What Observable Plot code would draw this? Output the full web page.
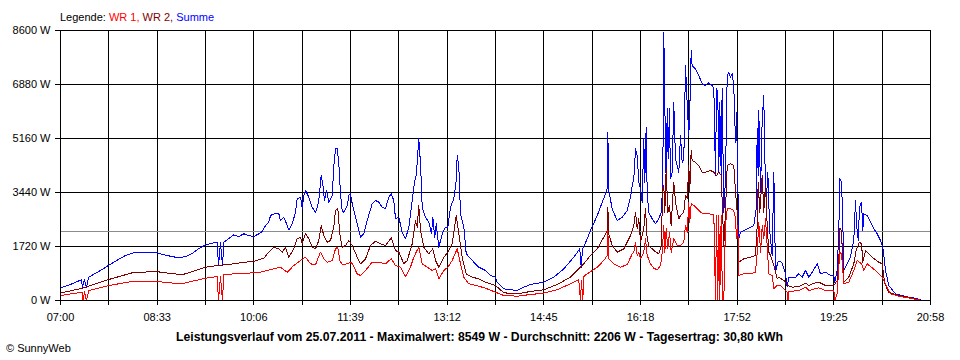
<!DOCTYPE html>
<html><head><meta charset="utf-8">
<script src="https://cdn.jsdelivr.net/npm/d3@7"></script>
<script src="https://cdn.jsdelivr.net/npm/@observablehq/plot@0.6"></script>
<style>
body{margin:0;background:#fff;}
#chart{position:relative;width:960px;height:360px;overflow:hidden;}
</style></head><body><div id="chart"></div>
<script>
// ---- texts ----
const legendTitle = "Legende: ";
const seriesNames = ["WR 1, ", "WR 2, ", "Summe"];
const seriesColors = ["#ff0000", "#800000", "#0000ff"];
const caption = "Leistungsverlauf vom 25.07.2011 - Maximalwert: 8549 W - Durchschnitt: 2206 W - Tagesertrag: 30,80 kWh";
const copyright = "\u00A9 SunnyWeb";

// ---- axes ----
const timeTickLabels = ["07:00","08:33","10:06","11:39","13:12","14:45","16:18","17:52","19:25","20:58"];
const startMinute = 420, endMinute = 1258, gridIntervals = 18;
const yTicks = [0, 1720, 3440, 5160, 6880, 8600];
const averageW = 2206;

// ---- series (minutes since midnight, watts) ----
const summeT = [420,429.6,440.2,441.2,443.1,445.0,447.0,458.5,466.2,474.9,482.6,492.2,501.9,506.7,511.5,518.2,526.0,533.7,540.4,547.1,552.9,559.7,564.5,570.9,572.2,574.1,576.0,577.5,586.9,591.7,596.6,601.4,606.2,611.0,614.3,617.5,620.6,622.3,627.1,630.3,631.9,635.1,638.4,639.9,643.2,646.4,648.0,651.2,652.8,654.4,656.0,659.2,662.4,665.6,667.3,668.8,671.1,673.0,674.3,676.2,678.4,681.7,683.2,684.9,686.5,688.1,689.7,691.3,692.9,696.2,697.7,699.3,701.0,702.5,705.8,709.0,712.1,715.4,720.2,723.4,726.6,729.9,733.0,736.2,738.5,741.0,742.7,745.9,749.1,752.3,755.5,758.8,761.0,762.6,763.6,765.1,766.8,768.4,771.6,774.8,777.4,778.6,780.5,781.9,784.4,787.7,790.8,793.1,795.7,798.8,801.2,802.1,803.7,805.3,808.5,810.8,816.6,822.9,829.4,834.2,839.0,840.6,847.0,853.4,859.9,866.3,872.7,885.5,895.2,904.8,914.4,920.2,921.5,922.8,927.3,930.5,937.0,941.8,945.0,946.6,947.2,948.1,951.4,956.2,961.0,965.9,969.0,970.7,972.2,973.9,975.5,977.0,978.7,980.3,981.8,982.8,984.1,985.1,986.6,989.9,993.1,996.3,998.6,1000.1,1001.1,1002.1,1003.4,1004.4,1005.3,1006.6,1007.5,1009.2,1010.7,1012.4,1014.0,1015.6,1017.2,1018.8,1020.4,1022.0,1023.7,1025.2,1026.1,1027.5,1028.4,1031.6,1034.8,1038.1,1041.3,1044.4,1047.7,1049.3,1050.9,1051.9,1053.1,1054.1,1055.0,1056.4,1057.3,1058.9,1060.5,1062.2,1063.7,1065.4,1067.0,1068.5,1070.2,1071.1,1072.4,1073.3,1075.0,1078.2,1081.4,1084.6,1087.8,1090.1,1091.1,1092.0,1092.6,1094.3,1095.9,1097.4,1098.4,1100.0,1101.3,1103.2,1105.5,1107.1,1108.7,1110.9,1113.5,1115.1,1118.3,1119.9,1121.5,1128.0,1131.1,1134.4,1137.6,1140.8,1144.0,1148.9,1152.0,1156.9,1161.7,1164.9,1165.8,1168.1,1169.7,1170.6,1172.3,1173.5,1174.5,1177.8,1180.9,1184.1,1185.8,1186.7,1188.4,1189.6,1191.6,1192.8,1193.7,1197.0,1200.2,1203.4,1206.7,1209.9,1212.1,1214.7,1217.8,1224.3,1230.7,1237.1,1243.5,1250.0];
const summeW = [405,510,660,415,670,415,740,955,1115,1290,1435,1540,1540,1515,1540,1465,1410,1360,1400,1505,1645,1775,1815,1857,1115,1847,1115,1857,2093,2039,2124,2070,2039,2124,2198,2389,2494,2707,2781,2761,2548,2653,2389,2252,2443,2813,3239,3290,2930,3344,3504,3290,2972,2813,2972,3185,3982,3609,3185,3504,3131,3344,4246,4832,4832,4354,3399,2867,2813,3026,3344,3399,3080,2867,2443,2016,2124,2548,3080,3185,3131,2972,2921,3290,3399,3185,2602,2653,2175,1965,2335,3185,3768,3982,4405,5150,4354,2972,2653,2494,2124,2653,2016,2443,1698,2124,2335,2335,2972,3239,3822,4619,4246,2761,2335,1487,1274,1061,956,796,742,583,373,341,319,424,510,583,742,1010,1379,1647,1061,1624,1965,2230,2707,3131,3399,3558,5361,3504,2921,2548,2653,2867,3290,3663,3876,4832,4619,3768,3558,3131,5150,3768,5520,3450,2813,2602,2443,2602,2813,3663,8549,6211,3768,6106,4513,6106,3876,4087,6316,4513,4300,4087,5256,4405,4513,7485,6211,5256,5998,7963,7485,7380,7167,6902,6848,6934,6848,6743,3982,6743,6635,4087,6316,3982,6743,2813,3876,7167,7272,7113,7221,6848,5042,5998,3768,1965,2175,2230,2284,2335,2389,2921,5469,3982,6052,3450,5788,6530,4513,3239,4087,2175,1433,4087,901,1220,1252,1179,850,424,742,742,850,742,956,742,901,1169,850,901,796,796,583,956,2230,3876,3768,2548,956,1169,1379,1911,3185,2443,1911,2972,3131,2230,2761,2707,2494,2284,2124,1911,1698,956,478,213,159,105,73,0];

const wr2T = [420,440.9,466.5,489.1,511.5,524.3,537.2,550.0,559.7,570.9,586.9,596.6,606.2,615.8,620.6,625.5,630.3,633.5,636.7,639.9,644.7,648.0,651.2,652.8,656.0,659.2,662.4,665.6,668.8,671.1,673.6,676.9,680.1,683.2,684.9,687.1,689.0,691.3,694.5,697.7,701.0,705.8,709.0,713.8,718.6,723.4,728.2,733.0,738.5,742.7,745.9,750.7,754.0,758.8,761.9,763.6,765.1,766.8,769.9,774.8,778.6,781.2,784.4,789.2,793.1,797.3,801.2,803.7,806.9,810.8,816.6,822.9,829.4,839.0,847.0,859.9,872.7,885.5,898.4,911.2,924.0,930.5,937.0,943.3,946.6,947.2,948.1,951.4,956.2,962.6,969.0,972.2,973.9,975.5,977.0,978.7,981.8,983.5,985.1,986.6,991.5,996.3,998.6,1000.1,1001.1,1002.1,1003.4,1005.0,1006.6,1008.2,1010.7,1012.4,1015.6,1017.2,1020.4,1022.0,1023.7,1025.2,1026.1,1027.5,1028.4,1031.6,1034.8,1038.1,1041.3,1046.1,1049.3,1051.9,1054.1,1056.4,1058.9,1060.5,1062.2,1065.4,1068.5,1070.2,1071.8,1073.3,1078.2,1084.6,1089.4,1091.1,1092.0,1093.6,1095.9,1097.4,1099.1,1100.7,1102.3,1103.9,1107.1,1110.3,1112.0,1116.8,1120.0,1124.8,1131.1,1137.6,1140.8,1144.0,1150.4,1156.9,1164.9,1168.1,1169.7,1170.6,1172.3,1173.5,1174.5,1179.3,1184.1,1186.4,1189.6,1191.6,1192.8,1195.4,1201.9,1208.2,1211.5,1214.0,1217.8,1227.5,1237.1,1250.0];
const wr2W = [235,392,669,882,924,870,819,956,1061,1115,1169,1220,1242,1347,1538,1698,1647,1538,1698,1379,1647,1965,2016,1806,2124,1965,1698,1647,1911,2389,2070,1857,1911,2335,2867,2921,2124,1698,1752,1911,1752,1379,1169,1328,1752,1889,1806,1752,1997,1593,1538,1169,1274,1806,2548,2335,3026,2230,1698,1487,1647,1274,1061,1379,1538,1806,2707,2124,1379,850,742,691,583,478,245,213,287,341,510,742,1169,1433,1647,2016,2230,2972,2124,1752,1538,1647,2070,2389,2813,2284,2602,1857,2284,2921,1965,1752,1593,1487,1752,3558,3663,2813,4195,2813,3026,2389,3768,3131,2602,2707,2813,3344,3239,4300,3450,4778,4459,4405,4300,4087,4087,4141,4087,3982,4087,3982,1752,2813,4300,4354,4300,3450,2813,1220,1328,1379,1433,2389,3768,2813,3982,2813,3663,2389,1538,1433,1115,700,742,637,478,424,446,551,478,532,583,478,478,637,1274,2303,2230,1169,583,742,1169,1593,1857,1806,1220,1593,1379,1220,1169,532,264,159,105,0];

const wr1T = [420,440.9,441.7,443.1,445.0,447.3,466.5,489.1,511.5,524.3,537.2,550.0,559.7,570.9,572.2,574.1,576.0,577.3,586.9,606.2,612.6,619.1,631.9,638.4,644.7,651.2,656.0,660.8,665.6,670.4,673.6,676.9,681.7,684.9,687.1,689.0,691.3,696.2,699.3,701.0,705.8,709.0,713.8,720.2,726.6,733.0,738.5,742.7,747.5,752.3,757.1,760.3,762.6,765.1,768.4,773.2,778.0,781.2,784.4,789.2,793.1,797.3,802.1,805.3,808.5,813.3,822.9,829.4,839.0,847.0,859.9,872.7,885.5,898.4,911.2,919.2,920.9,921.8,923.1,924.0,927.3,937.0,943.3,946.6,947.2,948.1,953.0,959.4,965.9,970.7,972.2,973.9,975.5,977.0,978.7,981.8,983.5,985.1,988.3,991.5,994.8,998.0,999.6,1001.1,1002.1,1003.4,1005.0,1006.6,1008.2,1010.7,1014.0,1017.2,1020.4,1022.0,1023.7,1025.2,1026.1,1027.5,1030.1,1033.3,1036.5,1039.6,1044.4,1049.3,1050.9,1051.9,1053.1,1054.1,1055.0,1056.4,1057.6,1058.9,1060.5,1062.2,1065.4,1068.5,1070.2,1071.1,1072.4,1073.3,1078.2,1084.6,1089.4,1091.1,1092.6,1094.3,1095.9,1097.4,1099.1,1100.7,1102.3,1105.5,1107.1,1110.3,1113.5,1116.8,1120.0,1120.8,1121.5,1131.1,1137.6,1140.8,1150.4,1156.9,1164.9,1165.8,1168.1,1170.6,1172.3,1174.5,1179.3,1184.1,1187.4,1189.6,1191.6,1193.7,1197.0,1205.0,1211.5,1216.3,1219.5,1227.5,1250.0];
const wr1W = [159,264,0,271,0,319,478,605,615,564,532,637,710,764,0,764,0,819,850,882,901,956,1061,901,1115,1274,1379,1169,1137,1538,1328,1220,1274,1647,1698,1274,1147,1169,1220,1169,850,796,956,1220,1220,1169,1328,1115,1061,764,1061,1379,1538,1698,1169,1061,956,1010,691,956,1061,1274,1647,1169,742,532,455,392,264,159,137,191,233,341,532,659,0,637,0,764,850,1061,1274,1433,2230,1328,1169,1061,1147,1487,1538,1857,1433,1538,1328,1538,1965,1433,1169,1029,978,1115,1538,2389,1538,2284,1647,2175,1538,1965,1752,1752,1857,2389,2175,3131,2494,3080,3026,2921,2813,2761,2761,2739,0,2707,0,2707,0,2707,0,0,2389,2921,2921,2867,2602,1965,2389,796,850,850,901,1538,2494,1538,2389,1965,2602,1752,850,796,373,478,478,373,264,0,287,319,424,319,405,319,319,0,213,1538,1487,532,583,956,1274,1220,1169,956,1169,956,742,424,213,137,0];

// ---- derived tick positions ----
const step = (endMinute - startMinute) / gridIntervals;
const gridMinutes = d3.range(gridIntervals + 1).map(k => startMinute + k * step);
const tickLabelFor = d => {
  const k = Math.round((d - startMinute) / step);
  return k % 2 === 0 ? timeTickLabels[k / 2] : "";
};

const chart = Plot.plot({
  width: 960,
  height: 360,
  marginLeft: 60,
  marginRight: 30,
  marginTop: 30,
  marginBottom: 60,
  style: {fontFamily: "'Liberation Sans', Arial, sans-serif", fontSize: "11px", background: "#fff", color: "#000", overflow: "visible"},
  x: {domain: [startMinute, endMinute]},
  y: {domain: [0, 8600]},
  marks: [
    Plot.gridX({ticks: gridMinutes, stroke: "#000", strokeOpacity: 1}),
    Plot.gridY({ticks: yTicks, stroke: "#000", strokeOpacity: 1}),
    Plot.ruleY([averageW], {stroke: "#8c8c8c", strokeWidth: 1}),
    Plot.line(summeW, {x: summeT, y: summeW, stroke: seriesColors[2], strokeWidth: 1}),
    Plot.line(wr2W, {x: wr2T, y: wr2W, stroke: seriesColors[1], strokeWidth: 1}),
    Plot.line(wr1W, {x: wr1T, y: wr1W, stroke: seriesColors[0], strokeWidth: 1}),
    Plot.axisX({ticks: gridMinutes, tickFormat: tickLabelFor, tickSize: 5, tickPadding: 8, stroke: "#000", strokeOpacity: 1}),
    Plot.axisY({ticks: yTicks, tickFormat: d => d + " W", tickSize: 5, tickPadding: 5, stroke: "#000", strokeOpacity: 1}),
    Plot.frame({stroke: "#000"})
  ]
});
chart.style.shapeRendering = "crispEdges";
document.getElementById("chart").appendChild(chart);

const svg = d3.select(chart);
const leg = svg.append("text").attr("x", 60).attr("y", 21).attr("text-anchor", "start")
  .attr("font-size", "11px").attr("fill", "#000").attr("xml:space", "preserve");
leg.append("tspan").attr("fill", "#000").text(legendTitle);
seriesNames.forEach((n, i) => leg.append("tspan").attr("fill", seriesColors[i]).text(n));

svg.append("text").attr("x", 176).attr("y", 341).attr("text-anchor", "start")
  .attr("font-size", "12px").attr("font-weight", "bold").attr("fill", "#000")
  .attr("textLength", 607).attr("lengthAdjust", "spacingAndGlyphs").text(caption);

svg.append("text").attr("x", 6).attr("y", 352).attr("text-anchor", "start")
  .attr("font-size", "11px").attr("fill", "#000").text(copyright);
</script></body></html>
